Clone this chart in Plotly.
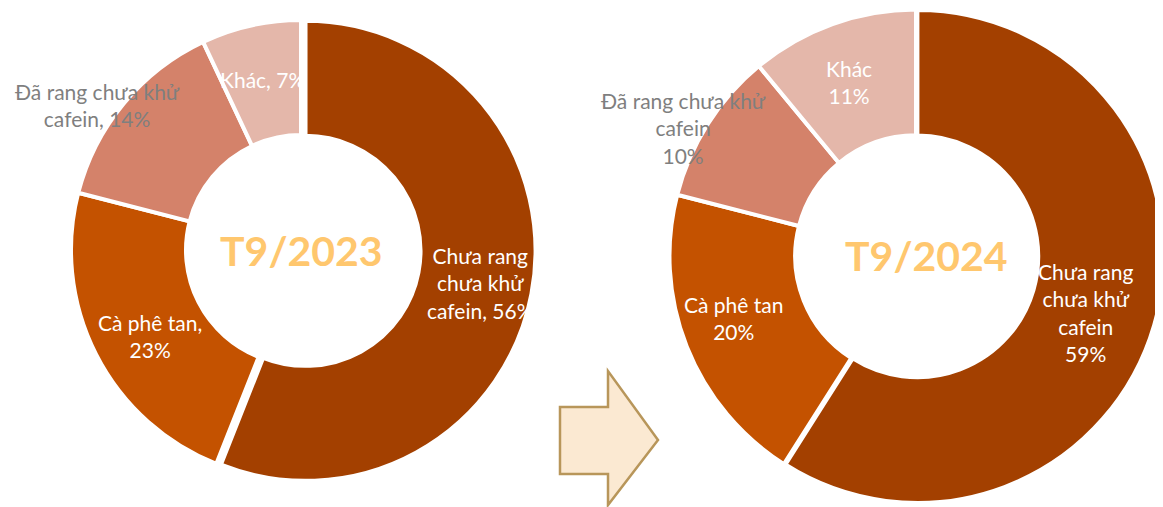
import plotly.graph_objects as go

categories = ["Chưa rang chưa khử cafein", "Cà phê tan", "Đã rang chưa khử cafein", "Khác"]
values_2023 = [56, 23, 14, 7]
values_2024 = [59, 20, 10, 11]
titles = ["T9/2023", "T9/2024"]
colors = ["#A34000", "#C45200", "#D4826A", "#E4B7AA"]

W, H = 1163, 507
OFF = 8  # page body margin
def px(x): return min(max((x - OFF) / W, 0), 1)
def py(y): return min(max(1 - (y - OFF) / H, 0), 1)

fig = go.Figure()
fig.add_trace(go.Pie(
    labels=categories, values=values_2023, sort=False, direction="clockwise", rotation=0,
    hole=0.5, pull=[0.02, 0, 0, 0], textinfo="none", hoverinfo="label+percent",
    marker=dict(colors=colors, line=dict(color="white", width=4)),
    domain=dict(x=[px(66.4), px(535.6)], y=[py(484.6), py(15.4)]),
    showlegend=False))
fig.add_trace(go.Pie(
    labels=categories, values=values_2024, sort=False, direction="clockwise", rotation=0,
    hole=0.49, pull=[0.006, 0, 0, 0], textinfo="none", hoverinfo="label+percent",
    marker=dict(colors=colors, line=dict(color="white", width=4)),
    domain=dict(x=[px(668), px(1164)], y=[py(504), py(8)]),
    showlegend=False))

FONT = "Lato, Open Sans, sans-serif"
GRAY = "#7F7F7F"
WHITE = "#FFFFFF"

def ann(x, y, text, color, size=21):
    fig.add_annotation(x=px(x), y=py(y), xref="paper", yref="paper", text=text,
                       showarrow=False, align="center", xanchor="center", yanchor="middle",
                       font=dict(family=FONT, size=size, color=color))

# left labels
ann(97, 105, f"Đã rang chưa khử<br>cafein, {values_2023[2]}%", GRAY)
ann(262, 79, f"Khác, {values_2023[3]}%", WHITE)
ann(480, 283, f"Chưa rang<br>chưa khử<br>cafein, {values_2023[0]}%", WHITE)
ann(150, 336, f"Cà phê tan,<br>{values_2023[1]}%", WHITE)
# right labels
ann(683, 128, f"Đã rang chưa khử<br>cafein<br>{values_2024[2]}%", GRAY)
ann(849, 82, f"Khác<br>{values_2024[3]}%", WHITE)
ann(1085, 312, f"Chưa rang<br>chưa khử<br>cafein<br>{values_2024[0]}%", WHITE)
ann(733, 318, f"Cà phê tan<br>{values_2024[1]}%", WHITE)

# center titles
for (x, y), t in zip([(301, 250), (926, 255)], titles):
    fig.add_annotation(x=px(x), y=py(y), xref="paper", yref="paper", text=f"<b>{t}</b>",
                       showarrow=False, xanchor="center", yanchor="middle",
                       font=dict(family=FONT, size=41, color="#FFC76E"))

# arrow
pts = [(560, 407), (608, 407), (608, 371), (658, 440), (608, 505), (608, 474), (560, 474)]
path = "M " + " L ".join(f"{(x - OFF) / W:.5f},{1 - (y - OFF) / H:.5f}" for x, y in pts) + " Z"
fig.add_shape(type="path", path=path, xref="paper", yref="paper",
              fillcolor="#FBE9D2", line=dict(color="#B8965A", width=2.5))

fig.update_layout(width=W, height=H, margin=dict(l=0, r=0, t=0, b=0),
                  paper_bgcolor="white", plot_bgcolor="white")
fig.write_html("out.html")
